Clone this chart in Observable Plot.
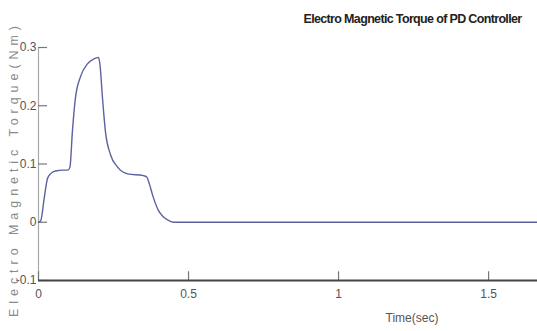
<!DOCTYPE html>
<html><head><meta charset="utf-8">
<script src="https://cdn.jsdelivr.net/npm/d3@7"></script>
<script src="https://cdn.jsdelivr.net/npm/@observablehq/plot@0.6"></script>
<style>body{margin:0;background:#fff}</style>
</head><body><div id="chart"></div>
<script>
const title = "Electro Magnetic Torque of PD Controller";
const xLabel = "Time(sec)";
const yLabel = "Electro Magnetic Torque(Nm)";
const xTicks = [0, 0.5, 1, 1.5];
const xTickLabels = ["0", "0.5", "1", "1.5"];
const yTicks = [-0.1, 0, 0.1, 0.2, 0.3];
const yTickLabels = ["-0.1", "0", "0.1", "0.2", "0.3"];
const time = [0, 0.007, 0.02, 0.03, 0.04, 0.05, 0.07, 0.1, 0.105, 0.113, 0.123, 0.14, 0.163, 0.183, 0.2, 0.205, 0.213, 0.223, 0.24, 0.263, 0.297, 0.35, 0.36, 0.37, 0.38, 0.4, 0.415, 0.43, 0.45, 1.663];
const torque = [0, 0.002, 0.045, 0.075, 0.083, 0.087, 0.089, 0.09, 0.095, 0.156, 0.213, 0.25, 0.272, 0.28, 0.283, 0.27, 0.215, 0.156, 0.116, 0.095, 0.083, 0.08, 0.078, 0.065, 0.047, 0.02, 0.01, 0.004, 0, 0];

const data = time.map((t, i) => ({t, v: torque[i]}));
const sans = "'Liberation Sans', Arial, sans-serif";

const chart = Plot.plot({
  width: 537, height: 331,
  marginLeft: 38, marginRight: 0, marginTop: 47, marginBottom: 51,
  style: {fontFamily: sans, background: "#fff"},
  x: {domain: [0, 1.663], axis: null},
  y: {domain: [-0.1, 0.3], axis: null},
  marks: [
    Plot.ruleX([0], {y1: -0.1, y2: 0.3, stroke: "#a8a8a8", strokeWidth: 1.2}),
    Plot.ruleY(yTicks, {x1: 0, x2: 0.03, stroke: "#777", strokeWidth: 1.2}),
    Plot.ruleX(xTicks, {y1: -0.1, y2: -0.085, stroke: "#777", strokeWidth: 1.2}),
    Plot.ruleY([-0.1], {stroke: "#444", strokeWidth: 2}),
    Plot.text(yTicks, {x: 0, y: d => d, text: (d, i) => yTickLabels[i], textAnchor: "end", dx: -2, fontSize: 12, fill: "#555"}),
    Plot.text(xTicks, {x: d => d, y: -0.1, text: (d, i) => xTickLabels[i], dy: 14, fontSize: 12, fill: "#555"}),
    Plot.line(data, {x: "t", y: "v", stroke: "#5d619f", strokeWidth: 1.4, curve: "monotone-x"}),
    Plot.text([title], {frameAnchor: "top-right", textAnchor: "end", lineAnchor: "middle", dx: -16, dy: -29, fontSize: 12.5, fontWeight: "bold", fill: "#222"}),
    Plot.text([xLabel], {frameAnchor: "bottom", lineAnchor: "middle", dx: 124, dy: 38, fontSize: 12, fill: "#555"}),
    Plot.text([yLabel], {frameAnchor: "left", textAnchor: "middle", lineAnchor: "middle", rotate: -90, dx: -25, dy: 5, fontSize: 12.5, fill: "#8a8a8a"})
  ]
});
document.getElementById("chart").appendChild(chart);
const svg = d3.select(chart);
svg.selectAll("text").filter(function() { return this.textContent === yLabel; })
  .each(function() {
    const len = this.getComputedTextLength();
    d3.select(this).style("letter-spacing", ((296 - len) / yLabel.length) + "px");
  });
svg.selectAll("text").filter(function() { return this.textContent === title; })
  .each(function() {
    const len = this.getComputedTextLength();
    d3.select(this).style("letter-spacing", ((218 - len) / title.length) + "px");
  });
</script>
</body></html>
